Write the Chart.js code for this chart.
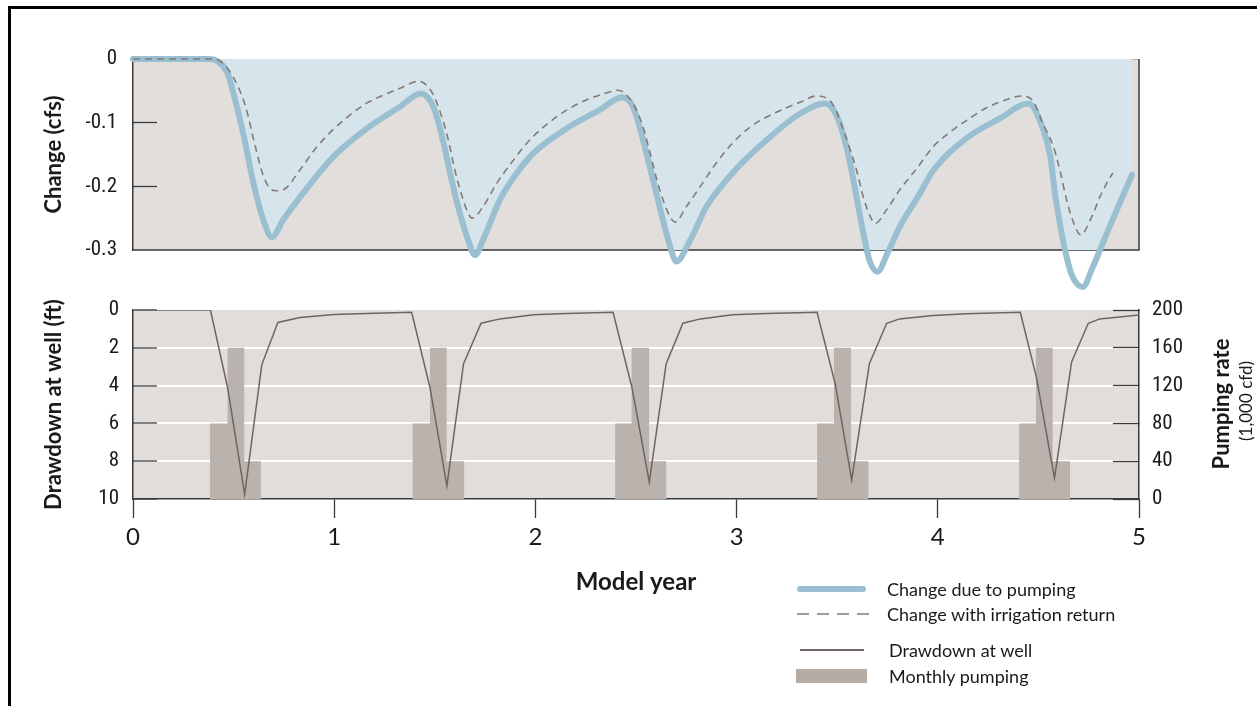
<!DOCTYPE html>
<html>
<head>
<meta charset="utf-8">
<script src="https://cdn.jsdelivr.net/npm/chart.js@4.4.1/dist/chart.umd.min.js"></script>
<style>
  html, body { margin: 0; padding: 0; background: #fff; }
  body { width: 1257px; height: 706px; position: relative; overflow: hidden; font-family: Lato, "Open Sans", sans-serif; color: #1a1a1a; }
  .frame { position: absolute; left: 8px; top: 6px; width: 1260px; height: 710px; border-left: 3px solid #000; border-top: 3px solid #000; }
  canvas { position: absolute; left: 0; top: 0; }
  .rot { position: absolute; white-space: nowrap; transform: translate(-50%, -50%) rotate(-90deg); }
  .leg { position: absolute; white-space: nowrap; font-size: 18px; transform: translateY(-50%); }
  .swatch { position: absolute; }
</style>
</head>
<body>
<div class="frame"></div>
<canvas id="bottom" width="1257" height="706"></canvas>
<canvas id="top" width="1257" height="706"></canvas>

<div class="rot" style="left:1220px; top:404px; font-weight:bold; font-size:22px;">Pumping rate</div>
<div class="rot" style="left:1245px; top:401px; font-size:17px;">(1,000 cfd)</div>

<div class="swatch" style="left:797px; top:586px; width:69px; height:6px; border-radius:3px; background:#99bfd1;"></div>
<svg class="swatch" style="left:797px; top:612px;" width="72" height="4"><line x1="0" y1="2" x2="72" y2="2" stroke="#857973" stroke-width="1.5" stroke-dasharray="12 8"/></svg>
<div class="swatch" style="left:800px; top:649px; width:64px; height:1.5px; background:#6f6560;"></div>
<div class="swatch" style="left:796px; top:669px; width:71px; height:14px; background:#b5aca6;"></div>
<div class="leg" style="left:887px; top:589px;">Change due to pumping</div>
<div class="leg" style="left:887px; top:614px;">Change with irrigation return</div>
<div class="leg" style="left:889px; top:650px;">Drawdown at well</div>
<div class="leg" style="left:889px; top:676px;">Monthly pumping</div>

<script>
// model year (x) and change in streamflow (cfs)
const changeYears = [0, 0.38, 0.417, 0.467, 0.50, 0.55, 0.60, 0.65, 0.69, 0.746, 0.83, 0.994, 1.163, 1.327, 1.43,
  1.493, 1.54, 1.576, 1.616, 1.66, 1.70, 1.74, 1.824, 1.908, 1.99, 2.155, 2.32, 2.43,
  2.485, 2.535, 2.585, 2.634, 2.67, 2.70, 2.77, 2.85, 2.98, 3.15, 3.315, 3.44,
  3.50, 3.55, 3.59, 3.63, 3.66, 3.70, 3.75, 3.81, 3.90, 3.98, 4.145, 4.31, 4.45,
  4.52, 4.56, 4.58, 4.61, 4.64, 4.67, 4.72, 4.77, 4.84, 4.905, 4.965];
const pumpingChange = [0, 0, -0.003, -0.02, -0.055, -0.12, -0.197, -0.255, -0.28, -0.253, -0.217, -0.154, -0.109, -0.075, -0.054,
  -0.075, -0.127, -0.179, -0.232, -0.279, -0.308, -0.284, -0.221, -0.179, -0.148, -0.109, -0.08, -0.06,
  -0.075, -0.127, -0.19, -0.253, -0.295, -0.318, -0.284, -0.232, -0.179, -0.127, -0.086, -0.07,
  -0.091, -0.143, -0.206, -0.274, -0.316, -0.334, -0.305, -0.264, -0.217, -0.174, -0.124, -0.093, -0.07,
  -0.107, -0.154, -0.206, -0.264, -0.311, -0.342, -0.358, -0.327, -0.274, -0.226, -0.182];

const irrigYears = [0, 0.40, 0.44, 0.497, 0.557, 0.606, 0.646, 0.68, 0.71, 0.75, 0.83, 0.914, 0.994, 1.078, 1.163, 1.243, 1.327, 1.42,
  1.485, 1.535, 1.567, 1.60, 1.635, 1.66, 1.685, 1.74, 1.808, 1.874, 1.958, 2.04, 2.157, 2.256, 2.356, 2.41,
  2.485, 2.535, 2.57, 2.604, 2.634, 2.67, 2.694, 2.75, 2.82, 2.90, 2.98, 3.067, 3.15, 3.315, 3.40,
  3.48, 3.53, 3.565, 3.60, 3.63, 3.665, 3.69, 3.745, 3.81, 3.90, 3.976, 4.06, 4.145, 4.24, 4.34, 4.42,
  4.475, 4.52, 4.575, 4.61, 4.64, 4.67, 4.71, 4.765, 4.805, 4.84, 4.87];
const irrigationChange = [0, 0, -0.005, -0.028, -0.072, -0.135, -0.182, -0.203, -0.207, -0.205, -0.174, -0.138, -0.111, -0.088, -0.069, -0.057, -0.046, -0.035,
  -0.052, -0.091, -0.127, -0.175, -0.215, -0.238, -0.25, -0.232, -0.195, -0.166, -0.132, -0.107, -0.08, -0.064, -0.053, -0.049,
  -0.07, -0.107, -0.148, -0.19, -0.221, -0.248, -0.256, -0.232, -0.2, -0.163, -0.132, -0.107, -0.091, -0.068, -0.058,
  -0.072, -0.111, -0.143, -0.179, -0.217, -0.248, -0.258, -0.237, -0.206, -0.17, -0.138, -0.115, -0.096, -0.077, -0.064, -0.058,
  -0.067, -0.1, -0.138, -0.179, -0.221, -0.253, -0.276, -0.248, -0.217, -0.195, -0.179];

// bottom panel: drawdown at the well (ft)
const drawYears = [0, 0.385, 0.47, 0.555, 0.64, 0.72, 0.83, 1.0, 1.16, 1.385,
  1.476, 1.56, 1.643, 1.73, 1.824, 1.99, 2.157, 2.386,
  2.48, 2.566, 2.65, 2.733, 2.82, 2.98, 3.15, 3.40,
  3.49, 3.572, 3.66, 3.746, 3.81, 3.976, 4.145, 4.41,
  4.49, 4.58, 4.665, 4.748, 4.805, 5.0];
const drawdownFt = [0, 0, 4.1, 9.75, 2.9, 0.66, 0.4, 0.24, 0.18, 0.12,
  4.1, 9.3, 2.84, 0.7, 0.47, 0.25, 0.18, 0.12,
  4.1, 9.1, 2.84, 0.7, 0.47, 0.25, 0.18, 0.12,
  3.9, 9.0, 2.84, 0.7, 0.47, 0.29, 0.2, 0.12,
  3.55, 8.9, 2.75, 0.7, 0.47, 0.27];

// monthly pumping (1,000 cfd): each value holds from its start year to the next one
const monthYears = [0.383, 0.47, 0.553, 0.636, 1.39, 1.476, 1.559, 1.646, 2.396, 2.478, 2.565, 2.65,
  3.40, 3.484, 3.569, 3.655, 4.404, 4.488, 4.571, 4.657];
const monthlyRate = [80, 160, 40, 0, 80, 160, 40, 0, 80, 160, 40, 0, 80, 160, 40, 0, 80, 160, 40, 0];

const pts = (xs, ys) => xs.map((x, i) => ({x: x, y: ys[i]}));

const narrow = "'Liberation Sans Narrow', 'Roboto Condensed', 'DejaVu Sans Condensed', sans-serif";
const dark = '#3a3a3a';
Chart.defaults.font.family = 'Lato';
Chart.defaults.color = '#1a1a1a';

const plotBackground = {
  id: 'plotBackground',
  beforeDraw(chart, args, opts) {
    const {ctx, chartArea: a} = chart;
    ctx.save();
    ctx.fillStyle = opts.color;
    ctx.fillRect(a.left, a.top, a.right - a.left, a.bottom - a.top);
    ctx.restore();
  },
  beforeDatasetsDraw(chart, args, opts) {
    if (!opts.box) return;
    const {ctx, chartArea: a} = chart;
    ctx.save();
    ctx.lineWidth = 1;
    ctx.strokeStyle = '#b9b9b9';
    ctx.beginPath(); ctx.moveTo(a.left, a.top + 0.5); ctx.lineTo(a.right, a.top + 0.5); ctx.stroke();
    ctx.lineWidth = 1.5;
    ctx.strokeStyle = dark;
    ctx.beginPath(); ctx.moveTo(a.right, a.top); ctx.lineTo(a.right, a.bottom); ctx.lineTo(a.left, a.bottom); ctx.stroke();
    ctx.restore();
  }
};

const tickFont = {family: narrow, size: 21};
const titleFont = {family: 'Lato', weight: 'bold', size: 22};

// top panel: change in streamflow
new Chart(document.getElementById('top'), {
  type: 'line',
  data: {
    datasets: [
      {
        label: 'Change with irrigation return',
        data: pts(irrigYears, irrigationChange),
        borderColor: '#857973', borderWidth: 1.6, borderDash: [7, 5],
        pointRadius: 0, fill: false, cubicInterpolationMode: 'monotone', clip: false
      },
      {
        label: 'Change due to pumping',
        data: pts(changeYears, pumpingChange),
        borderColor: '#99bfd1', borderWidth: 6, borderCapStyle: 'round', borderJoinStyle: 'round',
        backgroundColor: '#d6e5ec', fill: 'origin',
        pointRadius: 0, cubicInterpolationMode: 'monotone', clip: false
      }
    ]
  },
  options: {
    responsive: false, animation: false,
    layout: {padding: {top: 59, right: 118, bottom: 456, left: 0}},
    plugins: {legend: {display: false}, tooltip: {enabled: false}, plotBackground: {color: '#e2dedb', box: true}},
    scales: {
      x: {type: 'linear', min: 0, max: 5, display: false},
      y: {
        min: -0.3, max: 0,
        afterFit: s => { s.width = 133; },
        ticks: {stepSize: 0.1, padding: 40, font: tickFont},
        grid: {
          drawOnChartArea: false, tickLength: -24, tickWidth: 1.3,
          tickColor: c => (c.tick && c.tick.value < -0.05 && c.tick.value > -0.25) ? dark : 'rgba(0,0,0,0)'
        },
        border: {color: dark, width: 1.5},
        title: {display: true, text: 'Change (cfs)', font: titleFont, padding: {top: 41, bottom: 0}}
      }
    }
  },
  plugins: [plotBackground]
});

// bottom panel: drawdown and pumping
new Chart(document.getElementById('bottom'), {
  type: 'line',
  data: {
    datasets: [
      {
        label: 'Drawdown at well',
        data: pts(drawYears, drawdownFt),
        yAxisID: 'y', borderColor: '#6f6560', borderWidth: 1.5,
        pointRadius: 0, fill: false, tension: 0
      },
      {
        label: 'Monthly pumping',
        data: pts(monthYears, monthlyRate),
        yAxisID: 'y1', stepped: true, fill: 'origin',
        backgroundColor: '#bab2ac', borderColor: 'rgba(0,0,0,0)', borderWidth: 0, pointRadius: 0
      }
    ]
  },
  options: {
    responsive: false, animation: false,
    layout: {padding: {top: 310, right: 0, bottom: 87, left: 0}},
    plugins: {legend: {display: false}, tooltip: {enabled: false}, plotBackground: {color: '#e1dddb', box: false}},
    scales: {
      x: {
        type: 'linear', min: 0, max: 5,
        afterFit: s => { s.height = 120; },
        ticks: {stepSize: 1, padding: 5, maxRotation: 0, font: {family: 'Lato', size: 24}},
        grid: {drawOnChartArea: false, tickLength: 19, tickColor: dark, tickWidth: 1.3},
        border: {color: dark, width: 1.5},
        title: {display: true, text: 'Model year', font: {family: 'Lato', weight: 'bold', size: 24}, padding: {top: 0, bottom: 22}}
      },
      y: {
        position: 'left', reverse: true, min: 0, max: 10,
        afterFit: s => { s.width = 133; },
        ticks: {stepSize: 2, padding: 38, font: tickFont},
        grid: {
          color: c => (c.tick && c.tick.value > 0 && c.tick.value < 10) ? '#ffffff' : 'rgba(0,0,0,0)',
          lineWidth: 2, tickLength: -24, tickColor: dark, tickWidth: 1.3
        },
        border: {color: dark, width: 1.5},
        title: {display: true, text: 'Drawdown at well (ft)', font: titleFont, padding: {top: 41, bottom: 0}}
      },
      y1: {
        position: 'right', min: 0, max: 200,
        afterFit: s => { s.width = 118; },
        ticks: {stepSize: 40, padding: 39, font: tickFont},
        grid: {drawOnChartArea: false, tickLength: -26, tickColor: dark, tickWidth: 1.3},
        border: {color: dark, width: 1.5}
      }
    }
  },
  plugins: [plotBackground]
});
</script>
</body>
</html>
